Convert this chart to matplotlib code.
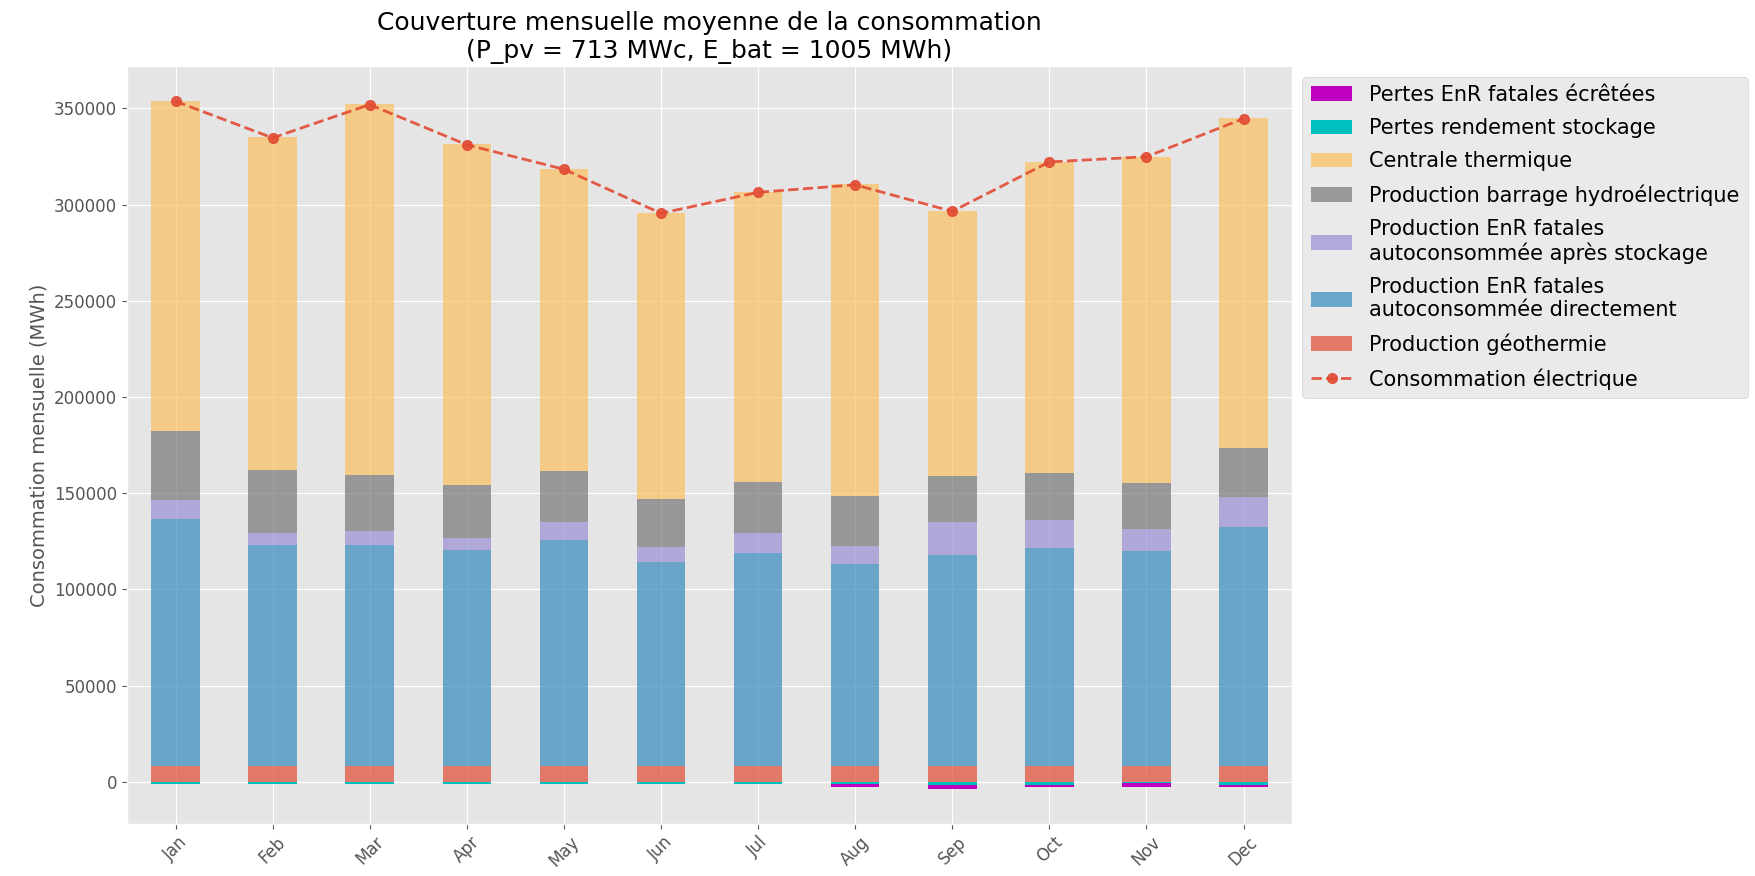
import numpy as np
import matplotlib
matplotlib.use("Agg")
import matplotlib.pyplot as plt

months = ["Jan", "Feb", "Mar", "Apr", "May", "Jun", "Jul", "Aug", "Sep", "Oct", "Nov", "Dec"]

# MWh per month
geothermie = [8200, 8200, 8200, 8200, 8200, 8200, 8200, 8200, 8200, 8200, 8200, 8200]
enr_direct = [128500, 114900, 114900, 112300, 117700, 106100, 110600, 105100, 109700, 113400, 111600, 124300]
enr_stockage = [10000, 6300, 7300, 6300, 9000, 7900, 10600, 9100, 17000, 14300, 11700, 15300]
hydro = [35600, 32900, 29200, 27400, 26600, 24700, 26500, 26400, 24000, 24700, 23600, 25500]
thermique = [171700, 172600, 192600, 177100, 157100, 148800, 150600, 161800, 137700, 161800, 169900, 171700]
pertes_stockage = [-900, -900, -900, -900, -1000, -900, -1000, -1300, -1900, -1700, -800, -1700]
pertes_ecretees = [0, 0, 0, 0, 0, 0, 0, -1400, -1900, -1000, -1700, -1000]
consommation = [353700, 334700, 352000, 331100, 318400, 295500, 306400, 310300, 296500, 322200, 324900, 344700]

plt.style.use("ggplot")
fig = plt.figure(figsize=(17.56, 8.76), dpi=100)
ax = fig.add_axes([0.0723, 0.0599, 0.6635, 0.8644])

x = np.arange(len(months))
w = 0.5

pos_series = [
    (geothermie, "#E24A33", "Production géothermie"),
    (enr_direct, "#348ABD", "Production EnR fatales\nautoconsommée directement"),
    (enr_stockage, "#988ED5", "Production EnR fatales\nautoconsommée après stockage"),
    (hydro, "#777777", "Production barrage hydroélectrique"),
    (thermique, "#FBC15E", "Centrale thermique"),
]
handles = []
bottom = np.zeros(len(months))
for vals, col, lab in pos_series:
    b = ax.bar(x, vals, w, bottom=bottom, color=col, alpha=0.7, label=lab)
    handles.append(b)
    bottom += np.array(vals)

neg_bottom = np.zeros(len(months))
for vals, col, lab in [(pertes_stockage, "c", "Pertes rendement stockage"),
                       (pertes_ecretees, "m", "Pertes EnR fatales écrêtées")]:
    b = ax.bar(x, vals, w, bottom=neg_bottom, color=col, label=lab)
    handles.append(b)
    neg_bottom += np.array(vals)

line, = ax.plot(x, consommation, linestyle="--", marker="o", color="#E24A33",
                linewidth=2, markersize=7, alpha=0.9, label="Consommation électrique")

handles = handles[::-1] + [line]
ax.legend(handles=handles, loc="upper left", bbox_to_anchor=(1, 1), fontsize=15,
          labelspacing=0.63)

ax.set_xlim(-0.5, len(months) - 0.5)
ax.set_xticks(x)
ax.set_xticklabels(months, rotation=45, fontsize=12)
ax.tick_params(axis="y", labelsize=12)
ax.set_ylabel("Consommation mensuelle (MWh)", fontsize=14)
ax.set_title("Couverture mensuelle moyenne de la consommation\n(P_pv = 713 MWc, E_bat = 1005 MWh)",
             fontsize=18)

fig.savefig("out.png", dpi=100)
